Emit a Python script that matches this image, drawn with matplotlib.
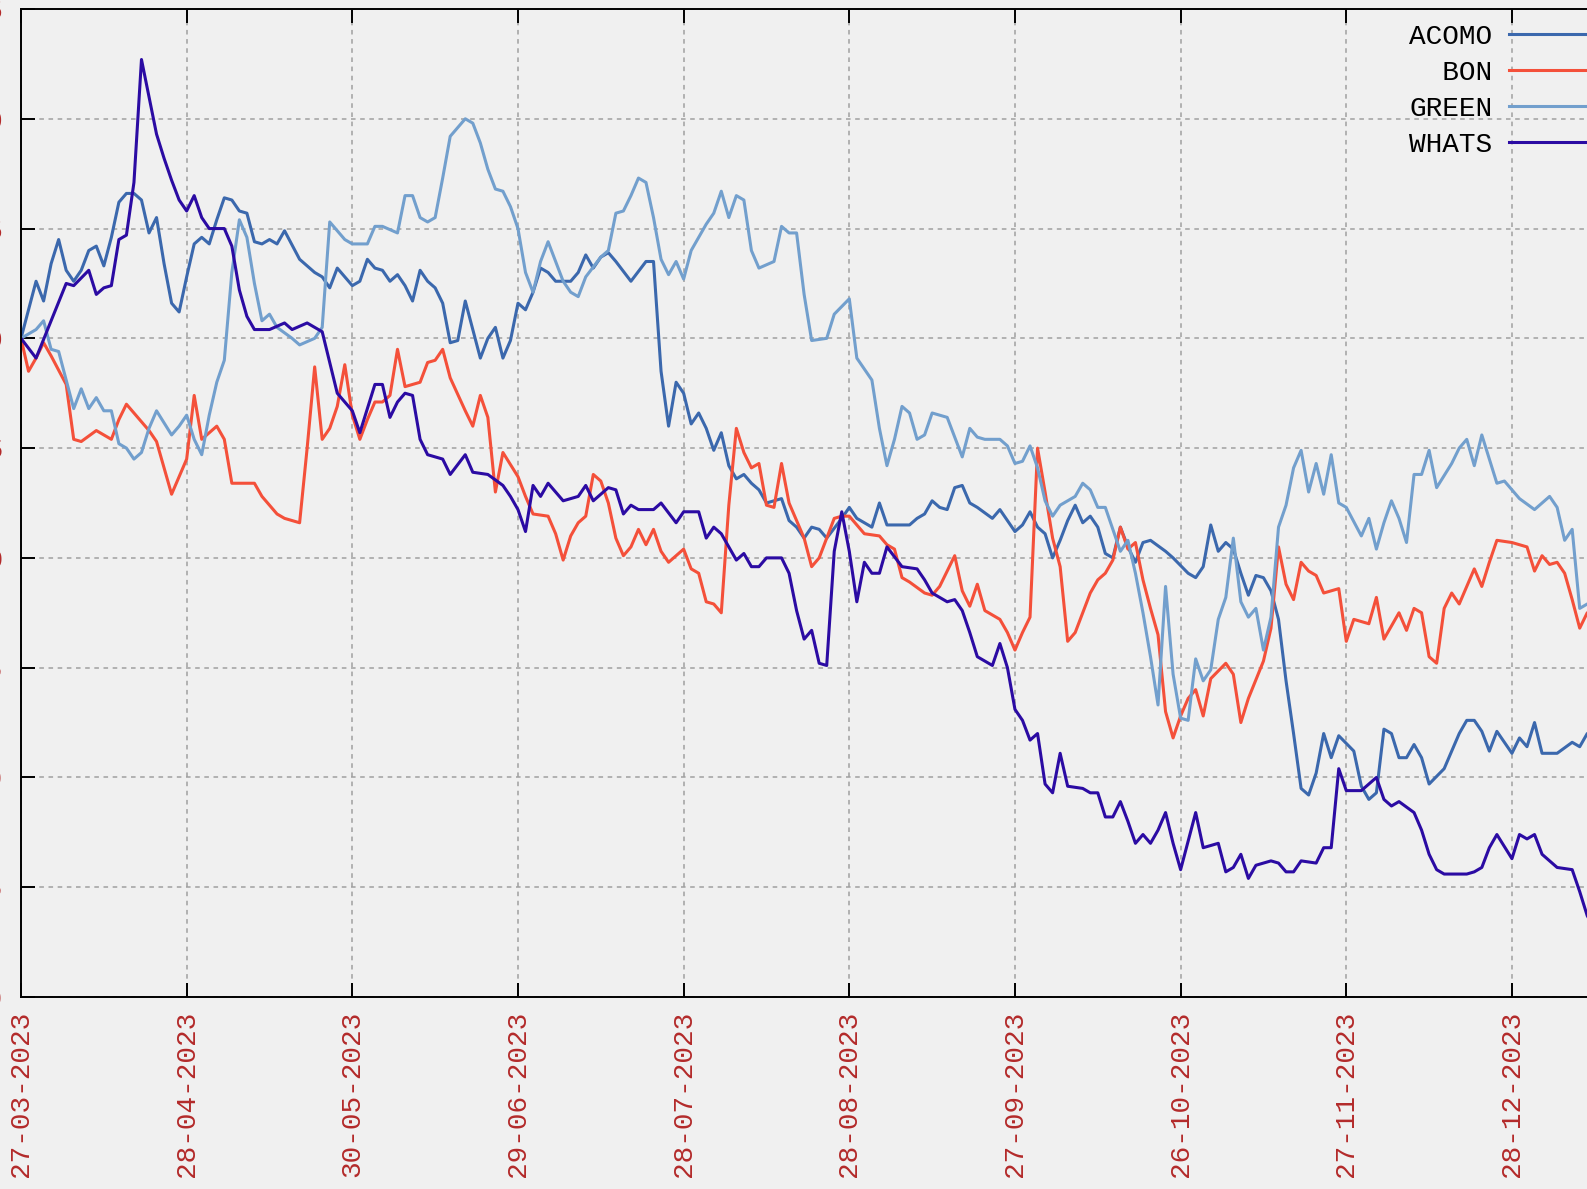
from __future__ import annotations

import matplotlib.pyplot as plt

# trading-day index (0 = 27-03-2023) and indexed close (start = 100)
acomo_idx = [0, 2, 3, 4, 5, 6, 7, 8, 9, 10, 11, 12, 13, 14, 15, 16, 17, 18, 19, 20,
             21, 22, 23, 24, 25, 26, 27, 28, 29, 30, 31, 32, 33, 34, 35, 37, 39, 40, 41, 42,
             44, 45, 46, 47, 48, 49, 50, 51, 52, 53, 54, 55, 56, 57, 58, 59, 60, 61, 62, 63,
             64, 65, 66, 67, 68, 69, 70, 71, 73, 74, 75, 76, 77, 78, 79, 81, 83, 84, 85, 86,
             87, 88, 89, 90, 91, 92, 93, 94, 95, 96, 97, 98, 99, 101, 102, 103, 104, 105, 106, 107,
             109, 110, 111, 113, 114, 115, 118, 119, 120, 121, 122, 123, 124, 125, 126, 127, 129, 130, 132, 133,
             134, 135, 136, 137, 138, 139, 140, 141, 142, 143, 144, 145, 146, 147, 148, 149, 150, 152, 153, 155,
             156, 157, 158, 159, 160, 161, 162, 163, 164, 165, 166, 167, 168, 169, 170, 171, 172, 173, 174, 175,
             177, 178, 179, 180, 181, 182, 183, 184, 185, 186, 187, 189, 191, 192, 193, 194, 195, 196, 198, 199,
             200, 201, 202, 204, 206, 207, 208, 210]
acomo_val = [100.0, 102.6, 101.7, 103.4, 104.5, 103.1, 102.6, 103.1, 104.0, 104.2, 103.3, 104.6, 106.2, 106.6, 106.6, 106.3, 104.8, 105.5, 103.4, 101.6,
             101.2, 102.8, 104.3, 104.6, 104.3, 105.4, 106.4, 106.3, 105.8, 105.7, 104.4, 104.3, 104.5, 104.3, 104.9, 103.6, 103.0, 102.8, 102.3, 103.2,
             102.4, 102.6, 103.6, 103.2, 103.1, 102.6, 102.9, 102.4, 101.7, 103.1, 102.6, 102.3, 101.6, 99.8, 99.9, 101.7, 100.4, 99.1, 100.0, 100.5,
             99.1, 99.9, 101.6, 101.3, 102.1, 103.2, 103.0, 102.6, 102.6, 103.0, 103.8, 103.2, 103.7, 103.9, 103.5, 102.6, 103.5, 103.5, 98.5, 96.0,
             98.0, 97.5, 96.1, 96.6, 95.9, 94.9, 95.7, 94.2, 93.6, 93.8, 93.4, 93.1, 92.5, 92.7, 91.7, 91.4, 90.9, 91.4, 91.3, 90.9,
             91.8, 92.3, 91.8, 91.4, 92.5, 91.5, 91.5, 91.8, 92.0, 92.6, 92.3, 92.2, 93.2, 93.3, 92.5, 92.3, 91.8, 92.2, 91.2, 91.5,
             92.1, 91.4, 91.1, 90.0, 90.8, 91.7, 92.4, 91.6, 91.9, 91.4, 90.2, 90.0, 91.4, 90.5, 89.8, 90.7, 90.8, 90.3, 90.0, 89.3,
             89.1, 89.6, 91.5, 90.3, 90.7, 90.4, 89.3, 88.3, 89.2, 89.1, 88.5, 87.2, 84.4, 82.0, 79.5, 79.2, 80.2, 82.0, 80.9, 81.9,
             81.2, 79.6, 79.0, 79.3, 82.2, 82.0, 80.9, 80.9, 81.5, 80.9, 79.7, 80.4, 82.0, 82.6, 82.6, 82.1, 81.2, 82.1, 81.1, 81.8,
             81.4, 82.5, 81.1, 81.1, 81.6, 81.4, 82.0, 82.2]

bon_idx = [0, 1, 2, 3, 4, 6, 7, 8, 10, 12, 13, 14, 16, 17, 18, 20, 21, 22, 23, 24,
           26, 27, 28, 31, 32, 34, 35, 37, 38, 39, 40, 41, 42, 43, 44, 45, 46, 47, 48, 49,
           50, 51, 53, 54, 55, 56, 57, 59, 60, 61, 62, 63, 64, 66, 67, 68, 70, 71, 72, 73,
           74, 75, 76, 77, 78, 79, 80, 81, 82, 83, 84, 85, 86, 88, 89, 90, 91, 92, 93, 94,
           95, 96, 97, 98, 99, 100, 101, 102, 104, 105, 106, 108, 109, 110, 112, 114, 115, 116, 117, 118,
           120, 121, 122, 124, 125, 126, 127, 128, 130, 131, 132, 133, 134, 135, 136, 137, 138, 139, 140, 141,
           142, 143, 144, 145, 146, 147, 148, 149, 150, 151, 152, 153, 154, 155, 156, 157, 158, 160, 161, 162,
           163, 165, 166, 167, 168, 169, 170, 171, 172, 173, 175, 176, 177, 179, 180, 181, 183, 184, 185, 186,
           187, 188, 189, 190, 191, 193, 194, 195, 196, 198, 200, 201, 202, 203, 204, 205, 206, 207, 208, 210]
bon_val = [100.0, 98.5, 99.1, 99.8, 99.2, 97.9, 95.4, 95.3, 95.8, 95.4, 96.3, 97.0, 96.2, 95.8, 95.3, 92.9, 93.7, 94.5, 97.4, 95.4,
           96.0, 95.4, 93.4, 93.4, 92.8, 92.0, 91.8, 91.6, 95.0, 98.7, 95.4, 95.9, 96.9, 98.8, 96.5, 95.4, 96.3, 97.1, 97.1, 97.4,
           99.5, 97.8, 98.0, 98.9, 99.0, 99.5, 98.2, 96.7, 96.0, 97.4, 96.4, 93.0, 94.8, 93.7, 92.8, 92.0, 91.9, 91.1, 89.9, 91.0,
           91.6, 91.9, 93.8, 93.5, 92.5, 90.9, 90.1, 90.5, 91.3, 90.6, 91.3, 90.3, 89.8, 90.4, 89.5, 89.3, 88.0, 87.9, 87.5, 92.4,
           95.9, 94.8, 94.1, 94.3, 92.4, 92.3, 94.3, 92.5, 90.9, 89.6, 90.0, 91.8, 91.9, 91.9, 91.1, 91.0, 90.6, 90.4, 89.1, 88.9,
           88.4, 88.3, 88.7, 90.1, 88.5, 87.8, 88.8, 87.6, 87.2, 86.6, 85.8, 86.6, 87.3, 95.0, 93.0, 90.9, 89.6, 86.2, 86.6, 87.5,
           88.4, 89.0, 89.3, 89.9, 91.4, 90.4, 90.7, 89.0, 87.7, 86.5, 83.0, 81.8, 82.8, 83.6, 84.0, 82.8, 84.5, 85.2, 84.7, 82.5,
           83.6, 85.3, 86.8, 90.5, 88.8, 88.1, 89.8, 89.4, 89.2, 88.4, 88.6, 86.2, 87.2, 87.0, 88.2, 86.3, 87.5, 86.7, 87.7, 87.5,
           85.5, 85.2, 87.7, 88.4, 87.9, 89.5, 88.7, 89.8, 90.8, 90.7, 90.5, 89.4, 90.1, 89.7, 89.8, 89.3, 88.1, 86.8, 87.5, 87.8]

green_idx = [0, 2, 3, 4, 5, 6, 7, 8, 9, 10, 11, 12, 13, 14, 15, 16, 17, 18, 20, 21,
             22, 23, 24, 25, 26, 27, 28, 29, 30, 31, 32, 33, 34, 36, 37, 39, 40, 41, 42, 43,
             44, 46, 47, 48, 50, 51, 52, 53, 54, 55, 56, 57, 58, 59, 60, 61, 62, 63, 64, 65,
             66, 67, 68, 69, 70, 71, 72, 73, 74, 75, 77, 78, 79, 80, 81, 82, 83, 84, 85, 86,
             87, 88, 89, 90, 91, 92, 93, 94, 95, 96, 97, 98, 100, 101, 102, 103, 104, 105, 107, 108,
             110, 111, 113, 114, 115, 116, 117, 118, 119, 120, 121, 123, 125, 126, 127, 128, 130, 131, 132, 133,
             134, 135, 136, 137, 138, 140, 141, 142, 143, 144, 145, 146, 147, 148, 149, 150, 151, 152, 153, 154,
             155, 156, 157, 158, 159, 160, 161, 162, 163, 164, 165, 166, 167, 168, 169, 170, 171, 172, 173, 174,
             175, 176, 178, 179, 180, 181, 182, 183, 184, 185, 186, 187, 188, 190, 191, 192, 193, 194, 196, 197,
             199, 201, 203, 204, 205, 206, 207, 208, 210]
green_val = [100.0, 100.4, 100.8, 99.5, 99.4, 98.1, 96.8, 97.7, 96.8, 97.3, 96.7, 96.7, 95.2, 95.0, 94.5, 94.8, 95.9, 96.7, 95.6, 96.0,
             96.5, 95.4, 94.7, 96.5, 98.0, 99.0, 103.0, 105.4, 104.6, 102.5, 100.8, 101.1, 100.5, 100.0, 99.7, 100.0, 100.5, 105.3, 104.9, 104.5,
             104.3, 104.3, 105.1, 105.1, 104.8, 106.5, 106.5, 105.5, 105.3, 105.5, 107.3, 109.2, 109.6, 110.0, 109.8, 108.9, 107.7, 106.8, 106.7, 106.0,
             105.0, 103.0, 102.1, 103.5, 104.4, 103.5, 102.6, 102.1, 101.9, 102.8, 103.7, 104.0, 105.7, 105.8, 106.5, 107.3, 107.1, 105.5, 103.6, 102.9,
             103.5, 102.7, 104.0, 104.6, 105.2, 105.7, 106.7, 105.5, 106.5, 106.3, 104.0, 103.2, 103.5, 105.1, 104.8, 104.8, 102.0, 99.9, 100.0, 101.1,
             101.8, 99.1, 98.1, 95.9, 94.2, 95.4, 96.9, 96.6, 95.4, 95.6, 96.6, 96.4, 94.6, 95.9, 95.5, 95.4, 95.4, 95.1, 94.3, 94.4,
             95.1, 94.1, 92.6, 91.9, 92.4, 92.8, 93.4, 93.1, 92.3, 92.3, 91.3, 90.3, 90.8, 89.3, 87.5, 85.5, 83.3, 88.7, 84.7, 82.7,
             82.6, 85.4, 84.4, 84.9, 87.2, 88.2, 90.9, 88.0, 87.3, 87.7, 85.8, 87.3, 91.4, 92.4, 94.1, 94.9, 93.0, 94.3, 92.9, 94.7,
             92.5, 92.3, 91.0, 91.8, 90.4, 91.6, 92.6, 91.8, 90.7, 93.8, 93.8, 94.9, 93.2, 94.3, 95.0, 95.4, 94.2, 95.6, 93.4, 93.5,
             92.7, 92.2, 92.8, 92.3, 90.8, 91.3, 87.7, 87.9, 88.0]

whats_idx = [0, 2, 4, 6, 7, 9, 10, 11, 12, 13, 14, 15, 16, 17, 18, 19, 20, 21, 22, 23,
             24, 25, 27, 28, 29, 30, 31, 33, 35, 36, 38, 40, 42, 44, 45, 47, 48, 49, 50, 51,
             52, 53, 54, 56, 57, 59, 60, 62, 64, 65, 66, 67, 68, 69, 70, 72, 74, 75, 76, 78,
             79, 80, 81, 82, 84, 85, 87, 88, 90, 91, 92, 93, 95, 96, 97, 98, 99, 101, 102, 103,
             104, 105, 106, 107, 108, 109, 110, 111, 112, 113, 114, 115, 117, 119, 120, 121, 123, 124, 125, 126,
             127, 129, 130, 131, 132, 133, 134, 135, 136, 137, 138, 139, 141, 142, 143, 144, 145, 146, 147, 148,
             149, 150, 151, 152, 153, 154, 155, 156, 157, 159, 160, 161, 162, 163, 164, 166, 167, 168, 169, 170,
             172, 173, 174, 175, 176, 178, 180, 181, 182, 183, 185, 186, 187, 188, 189, 192, 193, 194, 195, 196,
             198, 199, 200, 201, 202, 204, 206, 207, 208, 210]
whats_val = [100.0, 99.1, 100.8, 102.5, 102.4, 103.1, 102.0, 102.3, 102.4, 104.5, 104.7, 107.1, 112.7, 111.0, 109.3, 108.2, 107.2, 106.3, 105.8, 106.5,
             105.5, 105.0, 105.0, 104.2, 102.2, 101.0, 100.4, 100.4, 100.7, 100.4, 100.7, 100.3, 97.5, 96.7, 95.7, 97.9, 97.9, 96.4, 97.1, 97.5,
             97.4, 95.4, 94.7, 94.5, 93.8, 94.7, 93.9, 93.8, 93.3, 92.8, 92.2, 91.2, 93.3, 92.8, 93.4, 92.6, 92.8, 93.3, 92.6, 93.2,
             93.1, 92.0, 92.4, 92.2, 92.2, 92.5, 91.6, 92.1, 92.1, 90.9, 91.4, 91.1, 89.9, 90.2, 89.6, 89.6, 90.0, 90.0, 89.3, 87.6,
             86.3, 86.7, 85.2, 85.1, 90.3, 92.1, 90.3, 88.0, 89.8, 89.3, 89.3, 90.5, 89.6, 89.5, 89.0, 88.4, 88.0, 88.1, 87.6, 86.6,
             85.5, 85.1, 86.1, 85.0, 83.1, 82.6, 81.7, 82.0, 79.7, 79.3, 81.1, 79.6, 79.5, 79.3, 79.3, 78.2, 78.2, 78.9, 78.0, 77.0,
             77.4, 77.0, 77.6, 78.4, 77.0, 75.8, 77.1, 78.4, 76.8, 77.0, 75.7, 75.9, 76.5, 75.4, 76.0, 76.2, 76.1, 75.7, 75.7, 76.2,
             76.1, 76.8, 76.8, 80.4, 79.4, 79.4, 80.0, 79.0, 78.7, 78.9, 78.4, 77.6, 76.5, 75.8, 75.6, 75.6, 75.7, 75.9, 76.8, 77.4,
             76.3, 77.4, 77.2, 77.4, 76.5, 75.9, 75.8, 74.8, 73.7, 72.5]

tick_idx = [0, 22, 44, 66, 88, 110, 132, 154, 176, 198]
tick_labels = ["27-03-2023", "28-04-2023", "30-05-2023", "29-06-2023", "28-07-2023",
               "28-08-2023", "27-09-2023", "26-10-2023", "27-11-2023", "28-12-2023"]
y_ticks = [70, 75, 80, 85, 90, 95, 100, 105, 110, 115]

series = [
    ("ACOMO", acomo_idx, acomo_val, "#3b68ad"),
    ("BON", bon_idx, bon_val, "#f4503a"),
    ("GREEN", green_idx, green_val, "#729fcd"),
    ("WHATS", whats_idx, whats_val, "#2b0ba3"),
]


def main() -> None:
    plt.rcParams["font.family"] = ["Liberation Mono", "DejaVu Sans Mono"]
    bg = "#f0f0f0"
    fig = plt.figure(figsize=(15.87, 11.89), dpi=100, facecolor=bg)

    W, H = 1587.0, 1189.0
    x_max = 215
    left, top, bottom = 21 / W, 1 - 9 / H, 1 - 997 / H
    width = x_max * 7.53 / W
    ax = fig.add_axes([left, bottom, width, top - bottom], facecolor=bg)

    for name, xs, ys, color in series:
        ax.plot(xs, ys, color=color, lw=2.2, label=name.rjust(5))

    ax.set_xlim(0, x_max)
    ax.set_ylim(70, 115)
    ax.set_xticks(tick_idx)
    ax.set_xticklabels(tick_labels, rotation=90)
    ax.set_yticks(y_ticks)
    ax.set_yticklabels([str(v) for v in y_ticks])

    ax.grid(True, color="#a0a0a0", lw=1.1, ls=(0, (3, 3)))
    ax.set_axisbelow(True)
    for sp in ax.spines.values():
        sp.set_linewidth(1.4)
        sp.set_color("black")
    ax.tick_params(axis="both", direction="in", length=10, width=1.4,
                   top=True, right=True, labelsize=20, labelcolor="#b32a2a")
    ax.tick_params(axis="x", pad=10)
    ax.tick_params(axis="y", pad=13)

    leg = ax.legend(loc="upper right", bbox_to_anchor=(1620 / W, 1 - 24 / H),
                    bbox_transform=fig.transFigure, frameon=False, markerfirst=False,
                    fontsize=20, handlelength=4, handletextpad=0.6,
                    labelspacing=0.36, borderpad=0, borderaxespad=0)
    for line in leg.get_lines():
        line.set_linewidth(2.2)

    fig.savefig("out.png", dpi=100, facecolor=bg)


if __name__ == "__main__":
    main()
